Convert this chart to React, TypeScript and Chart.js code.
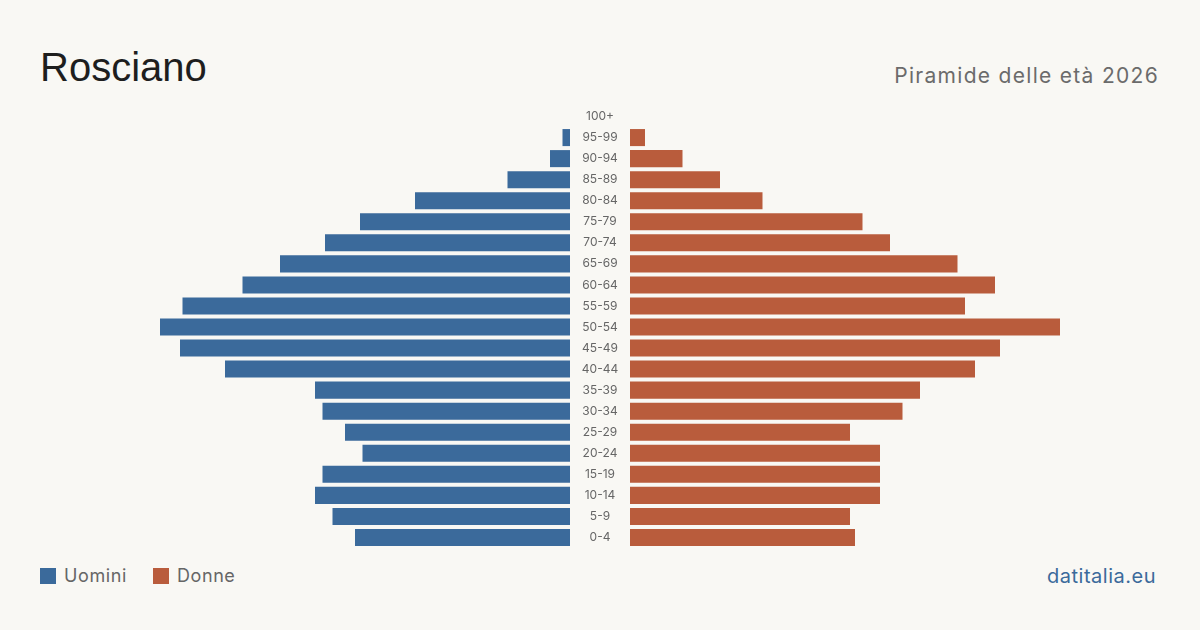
import React, { useEffect, useRef } from "react";
import Chart from "chart.js/auto";

const ageGroups = ["0-4","5-9","10-14","15-19","20-24","25-29","30-34","35-39","40-44","45-49","50-54","55-59","60-64","65-69","70-74","75-79","80-84","85-89","90-94","95-99","100+"];
const maleValues = [86, 95, 102, 99, 83, 90, 99, 102, 138, 156, 164, 155, 131, 116, 98, 84, 62, 25, 8, 3, 0];
const femaleValues = [90, 88, 100, 100, 100, 88, 109, 116, 138, 148, 172, 134, 146, 131, 104, 93, 53, 36, 21, 6, 0];
const axisMax = 176;

const BLUE = "#3b6a9b";
const ORANGE = "#b95c3c";
const BG = "#f9f8f4";
const FONT = "Inter, 'Liberation Sans', sans-serif";

const centerLabels = {
  id: "centerLabels",
  afterDraw(chart: any) {
    const { ctx, chartArea, scales } = chart;
    const y = scales.y;
    ctx.save();
    ctx.fillStyle = "#666";
    ctx.font = `12px ${FONT}`;
    ctx.textAlign = "center";
    ctx.textBaseline = "middle";
    chart.data.labels.forEach((lab: string, i: number) => {
      ctx.fillText(lab, chartArea.left - 30, y.getPixelForValue(i));
    });
    ctx.restore();
  },
};

function App() {
  const leftRef = useRef<HTMLCanvasElement>(null);
  const rightRef = useRef<HTMLCanvasElement>(null);

  useEffect(() => {
    const common: any = {
      responsive: false,
      animation: false,
      maintainAspectRatio: false,
      indexAxis: "y",
      plugins: { legend: { display: false }, tooltip: { enabled: false } },
    };
    const left = new Chart(leftRef.current!, {
      type: "bar",
      data: {
        labels: ageGroups,
        datasets: [{ label: "Uomini", data: maleValues, backgroundColor: BLUE, barPercentage: 1, categoryPercentage: 0.81 }],
      },
      options: {
        ...common,
        layout: { padding: 0 },
        scales: {
          x: { display: false, reverse: true, min: 0, max: axisMax },
          y: { display: false, reverse: true },
        },
      },
    });
    const right = new Chart(rightRef.current!, {
      type: "bar",
      data: {
        labels: ageGroups,
        datasets: [{ label: "Donne", data: femaleValues, backgroundColor: ORANGE, barPercentage: 1, categoryPercentage: 0.81 }],
      },
      options: {
        ...common,
        layout: { padding: { left: 60, right: 0, top: 0, bottom: 0 } },
        scales: {
          x: { display: false, min: 0, max: axisMax },
          y: { display: false, reverse: true },
        },
      },
      plugins: [centerLabels],
    });
    return () => { left.destroy(); right.destroy(); };
  }, []);

  return (
    <div style={{ position: "fixed", left: 0, top: 0, width: 1200, height: 630, background: BG, overflow: "hidden" }}>
      <div style={{ position: "absolute", left: 40, top: 42, fontFamily: "'Liberation Sans', Arial, sans-serif", fontSize: 40, color: "#1e1e1e", lineHeight: "50px" }}>Rosciano</div>
      <div style={{ position: "absolute", right: 41, top: 62, fontFamily: FONT, fontSize: 21, letterSpacing: 1.3, color: "#6b6b6b", lineHeight: "28px" }}>Piramide delle età 2026</div>
      <canvas ref={leftRef} width={440} height={442} style={{ position: "absolute", left: 130, top: 106 }} />
      <canvas ref={rightRef} width={500} height={442} style={{ position: "absolute", left: 570, top: 106 }} />
      <div style={{ position: "absolute", left: 40, top: 563, display: "flex", alignItems: "center", fontFamily: FONT, fontSize: 18, letterSpacing: 0.6, color: "#666", lineHeight: "26px" }}>
        <span style={{ display: "inline-block", width: 16, height: 16, background: BLUE, marginRight: 8 }} />
        <span>Uomini</span>
        <span style={{ display: "inline-block", width: 16, height: 16, background: ORANGE, marginLeft: 26, marginRight: 8 }} />
        <span>Donne</span>
      </div>
      <div style={{ position: "absolute", right: 44, top: 562, fontFamily: FONT, fontSize: 20, letterSpacing: 0.5, color: "#3b6a9b", lineHeight: "28px" }}>datitalia.eu</div>
    </div>
  );
}

export default App;
